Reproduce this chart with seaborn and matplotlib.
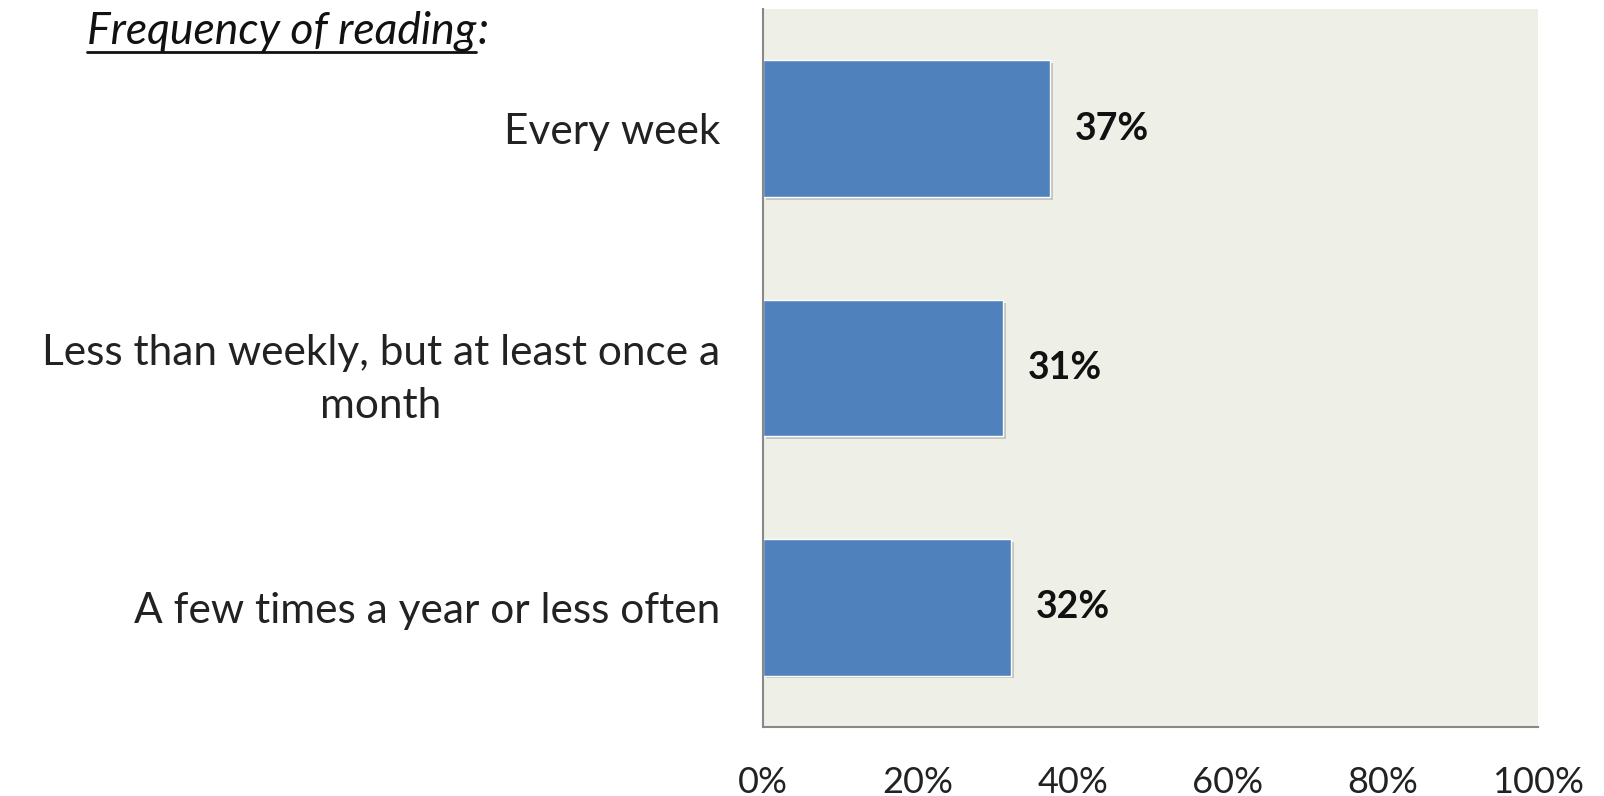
import matplotlib
matplotlib.use('Agg')

import pandas as pd
import matplotlib.pyplot as plt
import matplotlib.patheffects as pe
import seaborn as sns

# -------------------------------
# DATA
# -------------------------------

categories = [
    "Every week",
    "Less than weekly, but at least once a\nmonth",
    "A few times a year or less often",
]
shares = [37, 31, 32]
tick_values = [0, 20, 40, 60, 80, 100]
tick_labels = ["0%", "20%", "40%", "60%", "80%", "100%"]

df = pd.DataFrame({"category": categories, "share": shares})

# -------------------------------
# STYLE
# -------------------------------

sns.set_style("white")
plt.rcParams['font.family'] = ['Lato', 'DejaVu Sans']

fig = plt.figure(figsize=(16.04, 7.96), dpi=100)
ax = fig.add_axes([763 / 1604, 1 - 727 / 796, 775 / 1604, 718 / 796])

sns.barplot(
    data=df,
    x="share",
    y="category",
    color="#4F81BD",
    saturation=1,
    width=0.57,
    ax=ax,
)

for bar in ax.patches:
    bar.set_path_effects([
        pe.SimplePatchShadow(offset=(2, -2), shadow_rgbFace="#777777", alpha=0.35),
        pe.Normal(),
    ])

ax.set_facecolor("#EEF0E8")
ax.set_xlim(0, 100)
ax.set_xticks(tick_values)
ax.set_xticklabels(tick_labels, fontsize=26, color="#222222")
ax.tick_params(axis="x", length=0, pad=28)
ax.tick_params(axis="y", length=0, pad=31, labelsize=30.5)
for lbl in ax.get_yticklabels():
    lbl.set_horizontalalignment("right")
    lbl.set_multialignment("center")
    lbl.set_color("#222222")
    lbl.set_linespacing(1.5)

ax.set_xlabel("")
ax.set_ylabel("")

for side in ["top", "right"]:
    ax.spines[side].set_visible(False)
for side in ["left", "bottom"]:
    ax.spines[side].set_color("#888888")
    ax.spines[side].set_linewidth(1.5)

# value labels
for bar, val in zip(ax.patches, shares):
    ax.text(
        bar.get_width() + 3.2,
        bar.get_y() + bar.get_height() / 2,
        f"{val}%",
        va="center",
        ha="left",
        fontsize=27,
        fontweight="bold",
        color="#111111",
    )

# title, italic + underlined
title = fig.text(
    87 / 1604, 1 - 32 / 796,
    "Frequency of reading",
    fontsize=32,
    style="italic",
    ha="left",
    va="center",
    color="#111111",
)
fig.canvas.draw()
bb = title.get_window_extent()
x0, x1 = bb.x0 / fig.bbox.width, bb.x1 / fig.bbox.width
yline = (bb.y0 + 1) / fig.bbox.height
fig.add_artist(plt.Line2D([x0, x1], [yline, yline], color="#111111", lw=2))
fig.text(x1 + 0.001, 1 - 32 / 796, ":", fontsize=32, style="italic",
         ha="left", va="center", color="#111111")

plt.savefig("out.png", dpi=100)
